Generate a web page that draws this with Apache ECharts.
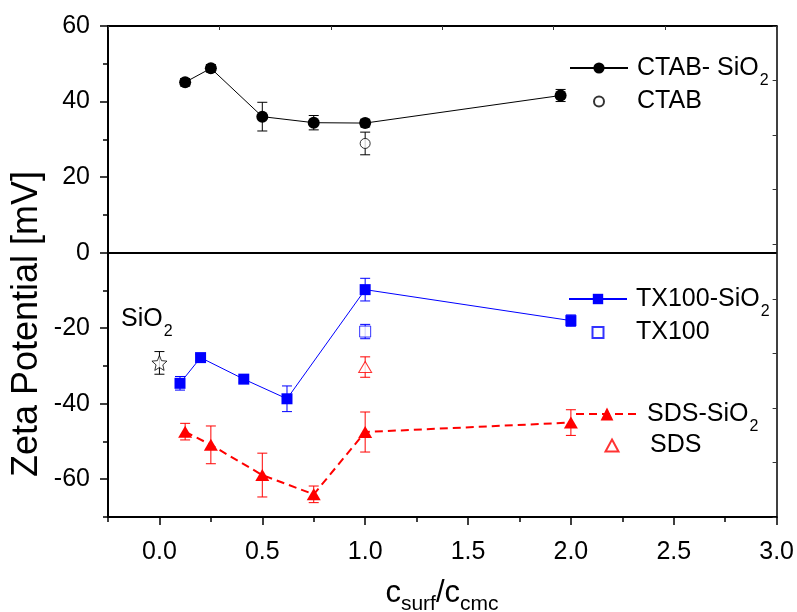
<!DOCTYPE html>
<html>
<head>
<meta charset="utf-8">
<script src="https://cdn.jsdelivr.net/npm/echarts@6/dist/echarts.min.js"></script>
<style>html,body{margin:0;padding:0;background:#fff;}#c{width:797px;height:612px;}</style>
</head>
<body>
<div id="c"></div>
<script>
// ---- data ----
const ctabSiO2X = [0.125, 0.25, 0.5, 0.75, 1.0, 1.95];
const ctabSiO2Y = [45.1, 48.8, 36.0, 34.4, 34.3, 41.6];
const ctabSiO2Err = [1.0, 1.0, 3.8, 1.9, 1.0, 1.6];

const ctabX = [1.0];
const ctabY = [28.9];
const ctabErr = [3.0];

const tx100SiO2X = [0.1, 0.2, 0.41, 0.62, 1.0, 2.0];
const tx100SiO2Y = [-34.6, -27.8, -33.5, -38.7, -9.8, -18.0];
const tx100SiO2Err = [1.8, 0.8, 0.8, 3.4, 3.0, 1.5];

const tx100X = [1.0];
const tx100Y = [-20.9];
const tx100Err = [1.9];

const sdsSiO2X = [0.125, 0.25, 0.5, 0.75, 1.0, 2.0];
const sdsSiO2Y = [-47.4, -50.9, -58.9, -64.0, -47.5, -45.0];
const sdsSiO2Err = [2.2, 5.0, 5.8, 2.2, 5.3, 3.4];

const sdsX = [1.0];
const sdsY = [-30.3];
const sdsErr = [2.7];

const sio2X = [0.0];
const sio2Y = [-29.2];
const sio2Err = [3.0];

const xMajorTicks = [0, 0.5, 1.0, 1.5, 2.0, 2.5, 3.0];
const xMinorTicks = [-0.25, 0.25, 0.75, 1.25, 1.75, 2.25, 2.75];
const yMajorTicks = [-60, -40, -20, 0, 20, 40, 60];
const yMinorTicks = [-70, -50, -30, -10, 10, 30, 50];

// ---- helpers ----
const FONT = '"Liberation Sans", Arial, sans-serif';
const BLUE = '#0000ff', RED = '#ff0000', BLACK = '#000000';
const zip = (xs, ys) => xs.map((x, i) => [x, ys[i]]);
const zip3 = (xs, ys, es) => xs.map((x, i) => [x, ys[i], es[i]]);
const STAR = 'path://M12,1 L15.1,8.6 L23.3,9.3 L17.1,14.7 L19,22.7 L12,18.5 L5,22.7 L6.9,14.7 L0.7,9.3 L8.9,8.6 Z';

function errSeries(xs, ys, es, color) {
  return {
    type: 'custom', silent: true, z: 1,
    data: zip3(xs, ys, es),
    encode: { x: 0, y: 1 },
    renderItem: function (params, api) {
      const x = api.value(0), y = api.value(1), e = api.value(2);
      const t = api.coord([x, y + e]), b = api.coord([x, y - e]);
      const hw = 5;
      const st = { stroke: color, lineWidth: 1 };
      return { type: 'group', children: [
        { type: 'line', shape: { x1: t[0], y1: t[1], x2: b[0], y2: b[1] }, style: st },
        { type: 'line', shape: { x1: t[0] - hw, y1: t[1], x2: t[0] + hw, y2: t[1] }, style: st },
        { type: 'line', shape: { x1: b[0] - hw, y1: b[1], x2: b[0] + hw, y2: b[1] }, style: st }
      ]};
    }
  };
}

const legendLabels = {
  'CTAB- SiO2': '{m|CTAB- SiO}{s|2}',
  'CTAB': '{m|CTAB}',
  'TX100-SiO2': '{m|TX100-SiO}{s|2}',
  'TX100': '{m|TX100}',
  'SDS-SiO2': '{m|SDS-SiO}{s|2}',
  'SDS': '{m|SDS}'
};
const legendRich = {
  m: { fontSize: 25, fontFamily: FONT, color: '#000', lineHeight: 30 },
  s: { fontSize: 16, fontFamily: FONT, color: '#000', lineHeight: 30, padding: [26, 0, 0, 1] }
};
function mkLegend(name, left, top, w, h, padLeft) {
  return {
    data: [name], left: left, top: top, orient: 'vertical',
    itemWidth: w, itemHeight: h, itemGap: 0, padding: 0,
    selectedMode: false,
    formatter: function (n) { return legendLabels[n]; },
    textStyle: { fontSize: 25, fontFamily: FONT, color: '#000', padding: [0, 0, 0, padLeft], rich: legendRich }
  };
}

const chart = echarts.init(document.getElementById('c'), null, { renderer: 'canvas' });
chart.setOption({
  animation: false,
  backgroundColor: '#fff',
  grid: { left: 108, right: 20, top: 26, bottom: 95, containLabel: false },
  xAxis: [
    { type: 'value', min: -0.25, max: 3.0, position: 'bottom',
      axisLine: { show: true, onZero: false, lineStyle: { color: BLACK, width: 2 } },
      axisTick: { show: true, inside: false, length: 8, customValues: xMajorTicks, lineStyle: { color: BLACK, width: 1.5 } },
      axisLabel: { show: true, customValues: xMajorTicks, margin: 23, fontSize: 25, fontFamily: FONT, color: BLACK,
        formatter: v => v.toFixed(1) },
      splitLine: { show: false } },
    { type: 'value', min: -0.25, max: 3.0, position: 'bottom',
      axisLine: { show: false, onZero: false },
      axisTick: { show: true, inside: false, length: 5, customValues: xMinorTicks, lineStyle: { color: BLACK, width: 1.5 } },
      axisLabel: { show: false }, splitLine: { show: false } },
    { type: 'value', min: 0, max: 6, interval: 1, position: 'top',
      axisLine: { show: true, onZero: false, lineStyle: { color: BLACK, width: 2 } },
      axisTick: { show: true, inside: true, length: 4, lineStyle: { color: '#333', width: 1 } },
      axisLabel: { show: false }, splitLine: { show: false } }
  ],
  yAxis: [
    { type: 'value', min: -70, max: 60, position: 'left',
      axisLine: { show: true, onZero: false, lineStyle: { color: BLACK, width: 2 } },
      axisTick: { show: true, inside: false, length: 8, customValues: yMajorTicks, lineStyle: { color: BLACK, width: 1.5 } },
      axisLabel: { show: true, customValues: yMajorTicks, margin: 18, fontSize: 25, fontFamily: FONT, color: BLACK },
      splitLine: { show: false } },
    { type: 'value', min: -70, max: 60, position: 'left',
      axisLine: { show: false, onZero: false },
      axisTick: { show: true, inside: false, length: 5, customValues: yMinorTicks, lineStyle: { color: BLACK, width: 1.5 } },
      axisLabel: { show: false }, splitLine: { show: false } },
    { type: 'value', min: 0, max: 9, interval: 1, position: 'right',
      axisLine: { show: true, onZero: false, lineStyle: { color: BLACK, width: 1.5 } },
      axisTick: { show: true, inside: true, length: 4, lineStyle: { color: '#333', width: 1 } },
      axisLabel: { show: false }, splitLine: { show: false } }
  ],
  legend: [
    mkLegend('CTAB- SiO2', 569, 47, 58, 14, 4),
    mkLegend('CTAB', 593, 89, 10, 10, 28),
    mkLegend('TX100-SiO2', 568, 278, 58, 13, 4),
    mkLegend('TX100', 591.5, 320, 11, 11, 27.5),
    mkLegend('SDS-SiO2', 575, 393, 62, 16, 4),
    mkLegend('SDS', 604.5, 433, 13, 12, 26.5)
  ],
  graphic: [
    { type: 'text', x: 27, y: 324, rotation: Math.PI / 2,
      style: { text: 'Zeta Potential [mV]', fontSize: 36, fontFamily: FONT, fill: BLACK, align: 'center', verticalAlign: 'middle' } },
    { type: 'text', x: 442, y: 593,
      style: { text: '{m|c}{s|surf}{m|/c}{s|cmc}', align: 'center', verticalAlign: 'middle',
        rich: {
          m: { fontSize: 31, fontFamily: FONT, fill: BLACK, lineHeight: 40 },
          s: { fontSize: 21, fontFamily: FONT, fill: BLACK, lineHeight: 40, padding: [22, 0, 0, 0] }
        } } },
    { type: 'text', x: 121, y: 319,
      style: { text: '{m|SiO}{s|2}', align: 'left', verticalAlign: 'middle',
        rich: {
          m: { fontSize: 25, fontFamily: FONT, fill: BLACK, lineHeight: 30 },
          s: { fontSize: 16, fontFamily: FONT, fill: BLACK, lineHeight: 30, padding: [26, 0, 0, 1] }
        } } }
  ],
  series: [
    errSeries(ctabSiO2X, ctabSiO2Y, ctabSiO2Err, BLACK),
    errSeries(ctabX, ctabY, ctabErr, BLACK),
    errSeries(tx100SiO2X, tx100SiO2Y, tx100SiO2Err, BLUE),
    errSeries(tx100X, tx100Y, tx100Err, BLUE),
    errSeries(sdsSiO2X, sdsSiO2Y, sdsSiO2Err, RED),
    errSeries(sdsX, sdsY, sdsErr, RED),
    errSeries(sio2X, sio2Y, sio2Err, BLACK),
    { name: 'CTAB- SiO2', type: 'line', data: zip(ctabSiO2X, ctabSiO2Y), z: 5,
      symbol: 'circle', symbolSize: 12, showSymbol: true,
      itemStyle: { color: BLACK }, lineStyle: { color: BLACK, width: 1 },
      markLine: { silent: true, symbol: 'none', label: { show: false },
        lineStyle: { color: BLACK, width: 2, type: 'solid' }, data: [{ yAxis: 0 }] } },
    { name: 'CTAB', type: 'scatter', data: zip(ctabX, ctabY), z: 5,
      symbol: 'circle', symbolSize: 10,
      itemStyle: { color: '#fff', borderColor: BLACK, borderWidth: 1 } },
    { name: 'TX100-SiO2', type: 'line', data: zip(tx100SiO2X, tx100SiO2Y), z: 5,
      symbol: 'rect', symbolSize: 11, showSymbol: true,
      itemStyle: { color: BLUE }, lineStyle: { color: BLUE, width: 1 } },
    { name: 'TX100', type: 'scatter', data: zip(tx100X, tx100Y), z: 5,
      symbol: 'rect', symbolSize: 11,
      itemStyle: { color: '#fff', borderColor: BLUE, borderWidth: 1 } },
    { name: 'SDS-SiO2', type: 'line', data: zip(sdsSiO2X, sdsSiO2Y), z: 5,
      symbol: 'triangle', symbolSize: [14, 12], showSymbol: true,
      itemStyle: { color: RED }, lineStyle: { color: RED, width: 2, type: [8, 5] } },
    { name: 'SDS', type: 'scatter', data: zip(sdsX, sdsY), z: 5,
      symbol: 'triangle', symbolSize: [13, 11],
      itemStyle: { color: '#fff', borderColor: RED, borderWidth: 1 } },
    { name: 'SiO2', type: 'scatter', data: zip(sio2X, sio2Y), z: 5,
      symbol: STAR, symbolSize: 15,
      itemStyle: { color: '#fff', borderColor: BLACK, borderWidth: 1 } }
  ]
});
</script>
</body>
</html>
